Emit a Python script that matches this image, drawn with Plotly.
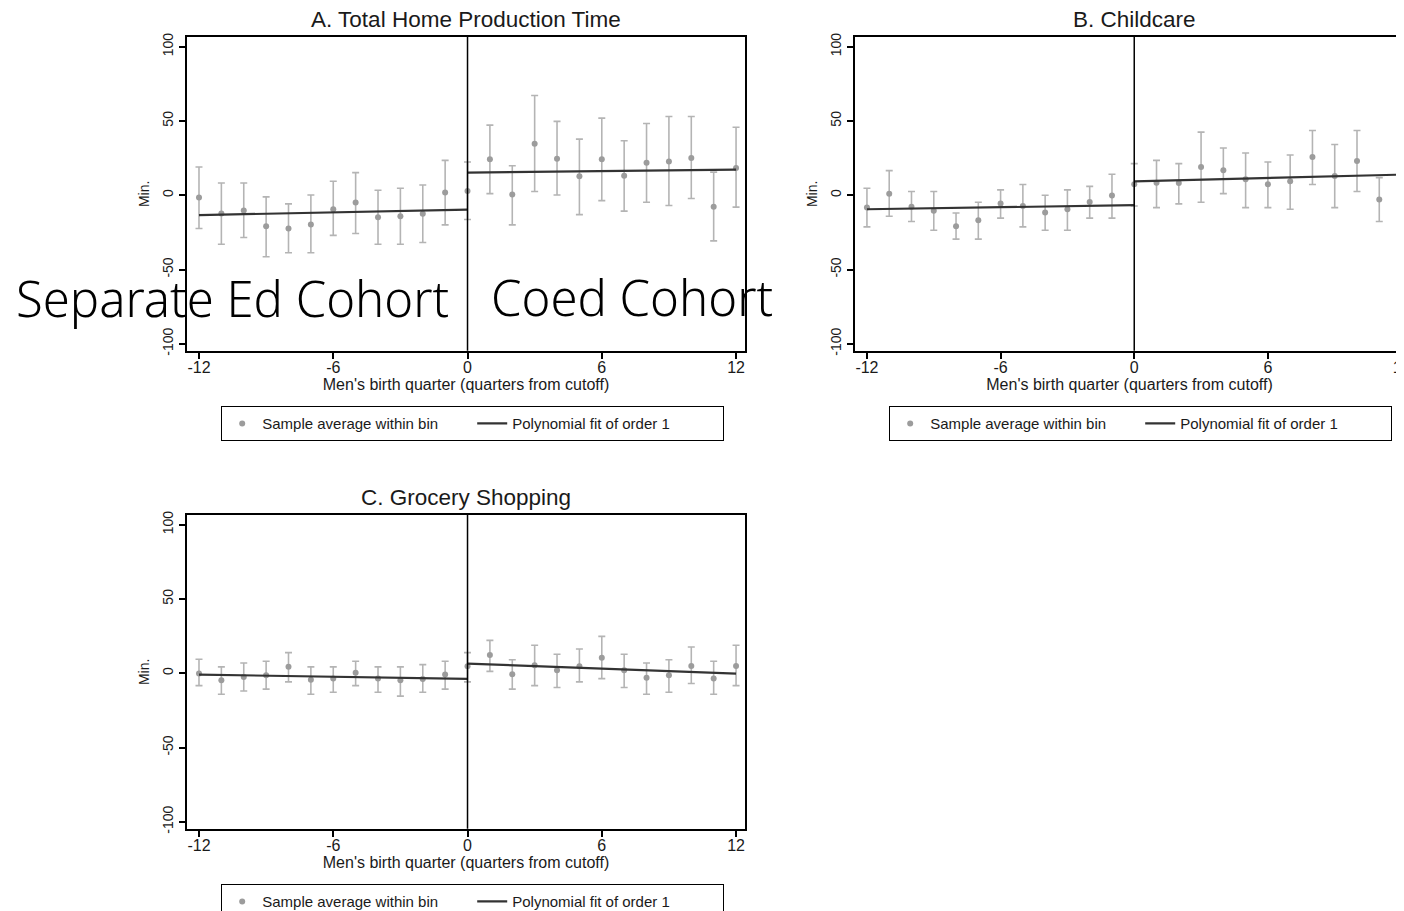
import plotly.graph_objects as go

# page body keeps its default 8 px margin, so the figure starts at (8, 8)
OFF = 8
W, H = 1404 - OFF, 911 - OFF

# ---------------- data ----------------
left_q = list(range(-12, 0))
right_q = list(range(0, 13))

A_left_mean = [-1.5, -12.3, -10.3, -20.8, -22.4, -19.7, -9.4, -4.9, -14.8, -14.1, -12.5, 1.8]
A_left_hi = [19, 8.3, 8.3, -1.1, -5.8, 0.2, 9.4, 15.2, 3.4, 4.7, 6.9, 23.5]
A_left_lo = [-22.4, -33, -28.4, -41.4, -38.7, -38.7, -27, -25.7, -33, -33, -31.8, -19.9]
A_right_mean = [2.9, 24.2, 0.5, 34.7, 24.6, 12.8, 24.2, 13.2, 21.9, 22.8, 25, -7.8, 18.3]
A_right_hi = [22.4, 47.2, 19.9, 67.1, 49.7, 37.8, 51.9, 36.7, 48.3, 53, 53, 15.6, 45.8]
A_right_lo = [-16.3, 1.1, -19.9, 2.5, 0.2, -13, -3.6, -10.7, -4.7, -6.9, -2.2, -30.7, -8]
A_fit_left = [-13.4, -9.6]
A_fit_right = [15.2, 17.2]

B_left_mean = [-8.3, 1.1, -7.8, -10.5, -20.8, -16.8, -5.6, -7.2, -11.6, -9.4, -4.5, -0.2]
B_left_hi = [4.7, 16.6, 2.5, 2.5, -11.9, -4.7, 3.6, 7.2, 0, 3.6, 6, 14.1]
B_left_lo = [-21.3, -14.1, -17.7, -23.5, -29.5, -29.5, -15.4, -21.3, -23.5, -23.5, -15.4, -15.4]
B_right_mean = [7.4, 8.5, 8.3, 19, 16.8, 10.7, 7.4, 9.4, 25.7, 13, 23, -2.9, 13.6]
B_right_hi = [21.3, 23.5, 21.3, 42.5, 31.8, 28.4, 22.4, 27.1, 43.6, 34.2, 43.6, 11.9, 30.7]
B_right_lo = [-7.2, -8.3, -5.8, -4.7, 1.1, -8.3, -8.3, -9.4, 7.2, -8.3, 2.5, -17.7, -3.6]
B_fit_left = [-9.4, -6.7]
B_fit_right = [9.4, 13.9]

C_left_mean = [-0.2, -4.7, -2.5, -1.3, 4.3, -4.3, -3.6, 0.4, -3.6, -4.7, -3.8, -0.9]
C_left_hi = [9.4, 4.3, 6.9, 8.1, 13.9, 4.3, 4.3, 8.1, 4.3, 4.3, 5.8, 8.1]
C_left_lo = [-8.3, -14.1, -11.9, -10.7, -5.8, -14.1, -12.8, -8.3, -12.8, -15.4, -12.8, -10.7]
C_right_mean = [4.7, 12.3, -0.7, 5.4, 2, 4.7, 10.5, 2, -3.1, -1.3, 4.9, -3.6, 4.9]
C_right_hi = [13.9, 22.1, 9.1, 18.8, 12.8, 16.3, 24.8, 12.8, 6.9, 9.1, 17.7, 8.1, 18.8]
C_right_lo = [-5.8, 1.3, -10.7, -8.3, -9.6, -5.8, -3.6, -9.6, -14.1, -12.8, -6.9, -14.1, -8.3]
C_fit_left = [-0.9, -3.8]
C_fit_right = [6.5, -0.2]

titles = ["A. Total Home Production Time", "B. Childcare", "C. Grocery Shopping"]
x_ticks = [-12, -6, 0, 6, 12]
x_tick_text = ["-12", "-6", "0", "6", "12"]
y_ticks = [-100, -50, 0, 50, 100]
y_tick_text = ["-100", "-50", "0", "50", "100"]
x_title = "Men's birth quarter (quarters from cutoff)"
y_title = "Min."
legend_names = ["Sample average within bin", "Polynomial fit of order 1"]
cohort_labels = ["Separate Ed Cohort", "Coed Cohort"]


def px(x):
    return (x - OFF) / W


def py(y):
    return 1 - (y - OFF) / H


# ---------------- layout geometry (window pixels) ----------------
FONT = "Liberation Sans, Arial, sans-serif"
TXT = "#1a1a1a"
panels = [
    dict(x0=187, x1=745, top=37, bottom=350.7, xr=[-12.536, 12.40], mirror_y=True, legx=221, legy=406, tx=466),
    dict(x0=855, x1=1404, top=37, bottom=350.7, xr=[-12.536, 12.11], mirror_y=False, legx=889, legy=406, tx=1134),
    dict(x0=187, x1=745, top=515, bottom=828.7, xr=[-12.536, 12.40], mirror_y=True, legx=221, legy=884, tx=466),
]
data = [
    (A_left_mean, A_left_hi, A_left_lo, A_right_mean, A_right_hi, A_right_lo, A_fit_left, A_fit_right),
    (B_left_mean, B_left_hi, B_left_lo, B_right_mean, B_right_hi, B_right_lo, B_fit_left, B_fit_right),
    (C_left_mean, C_left_hi, C_left_lo, C_right_mean, C_right_hi, C_right_lo, C_fit_left, C_fit_right),
]

fig = go.Figure()
annotations = []
shapes = []
layout = {}

for i, (p, d) in enumerate(zip(panels, data)):
    n = "" if i == 0 else str(i + 1)
    xa, ya = "x" + n, "y" + n
    leg = "legend" if i == 0 else "legend" + str(i + 1)
    lm, lh, ll, rm, rh, rl, fl, fr = d
    qs = left_q + right_q
    mean = lm + rm
    hi = lh + rh
    lo = ll + rl
    fig.add_trace(go.Scatter(
        x=qs, y=mean, mode="markers", name=legend_names[0],
        marker=dict(color="#9c9c9c", size=6),
        error_y=dict(type="data", symmetric=False,
                     array=[h - m for h, m in zip(hi, mean)],
                     arrayminus=[m - l for m, l in zip(mean, lo)],
                     color="#b4b4b4", thickness=1.6, width=3.5),
        xaxis=xa, yaxis=ya, legend=leg, showlegend=True,
    ))
    fig.add_trace(go.Scatter(
        x=[left_q[0], 0], y=fl, mode="lines", name=legend_names[1],
        line=dict(color="#333333", width=2.2),
        xaxis=xa, yaxis=ya, legend=leg, showlegend=True,
    ))
    fig.add_trace(go.Scatter(
        x=[0, right_q[-1]], y=fr, mode="lines", name=legend_names[1],
        line=dict(color="#333333", width=2.2),
        xaxis=xa, yaxis=ya, legend=leg, showlegend=False,
    ))
    xd = [px(p["x0"]), min(px(p["x1"]), 1.0)]
    yd = [py(p["bottom"]), py(p["top"])]
    layout["xaxis" + n] = dict(
        domain=xd, range=p["xr"], anchor=ya, tickvals=x_ticks, ticktext=x_tick_text,
        ticks="outside", ticklen=6, tickwidth=1.5, tickcolor="black",
        showline=True, linecolor="black", linewidth=2, mirror=True,
        showgrid=False, zeroline=False, automargin=False, ticklabelstandoff=-5,
        ticklabeloverflow="allow",
        tickfont=dict(family=FONT, size=16, color=TXT),
        title=dict(text=x_title, font=dict(family=FONT, size=16, color=TXT), standoff=1),
    )
    layout["yaxis" + n] = dict(
        domain=yd, range=[-104.6, 106.5], anchor=xa, tickvals=y_ticks, ticktext=y_tick_text,
        ticks="outside", ticklen=6, tickwidth=1.5, tickcolor="black",
        showline=True, linecolor="black", linewidth=2, mirror=p["mirror_y"],
        showgrid=False, zeroline=False, tickangle=-90, automargin=False,
        tickfont=dict(family=FONT, size=14, color=TXT),
        title=dict(text=y_title, font=dict(family=FONT, size=14, color=TXT), standoff=7),
    )
    layout[leg] = dict(
        x=px(p["legx"]), y=py(p["legy"]), xanchor="left", yanchor="top",
        orientation="h", bordercolor="black", borderwidth=1.2, bgcolor="white",
        font=dict(family=FONT, size=15, color=TXT), entrywidth=205,
        itemwidth=30, tracegroupgap=0,
    )
    annotations.append(dict(
        text=titles[i], x=px(p["tx"]),
        y=py(p["top"] - 18), xref="paper", yref="paper",
        xanchor="center", yanchor="middle", showarrow=False,
        font=dict(family=FONT, size=22.5, color=TXT),
    ))
    shapes.append(dict(type="line", xref=xa, yref=ya + " domain", x0=0, x1=0, y0=0, y1=1,
                       line=dict(color="black", width=1.5)))

COH_FONT = dict(family="Noto Sans, Noto Sans CJK JP", size=49, color="black", weight=300)
annotations.append(dict(text=cohort_labels[0], x=px(14), y=py(298), xref="paper", yref="paper",
                        xanchor="left", yanchor="middle", showarrow=False, font=COH_FONT))
annotations.append(dict(text=cohort_labels[1], x=px(489), y=py(297), xref="paper", yref="paper",
                        xanchor="left", yanchor="middle", showarrow=False, font=COH_FONT))

fig.update_layout(
    width=W, height=H, margin=dict(l=0, r=0, t=0, b=0, autoexpand=False),
    paper_bgcolor="white", plot_bgcolor="white",
    annotations=annotations, shapes=shapes, **layout,
)

fig.write_html("out.html")
